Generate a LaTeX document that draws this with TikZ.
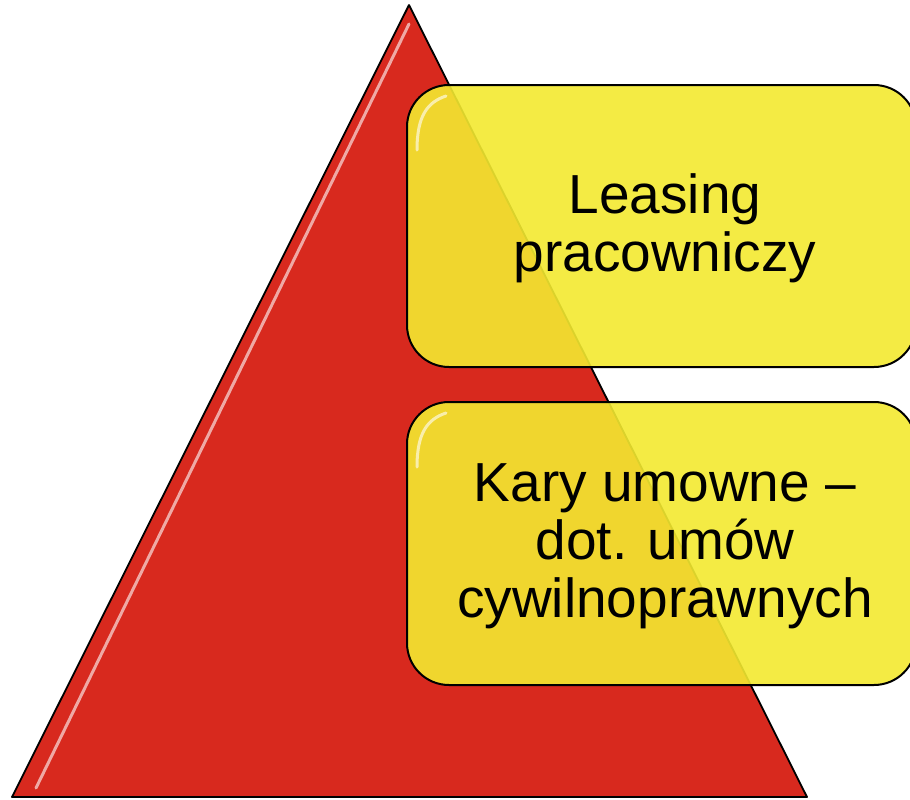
\documentclass[tikz,border=0pt]{standalone}
\usepackage{fontspec}
\setmainfont{Liberation Sans}
\definecolor{pyrred}{HTML}{D8291E}
\definecolor{boxyellow}{HTML}{F3E930}
\begin{document}
\begin{tikzpicture}[x=1pt,y=-1pt,
  tri/.style={fill=pyrred, draw=black, line width=1.8pt, line join=round},
  box/.style={fill=boxyellow, fill opacity=0.9, draw=black, draw opacity=1, line width=2pt, rounded corners=42pt},
  gloss/.style={white, opacity=0.6, line width=3pt, line cap=round},
  lbl/.style={font=\fontsize{55}{58}\selectfont, align=center, text=black, inner sep=0pt}
]
\useasboundingbox (0,0) rectangle (910,800);
\clip (0,0) rectangle (910,800);
% pyramid
\draw[tri] (409,5) -- (807,797) -- (12,797) -- cycle;
\draw[gloss] (409,24) -- (36,788);
% boxes
\draw[box] (407,85) rectangle (916,367);
\draw[box] (407,402) rectangle (916,685);
\draw[gloss] (417,150) .. controls (417,115) and (428,102) .. (446,96);
\draw[gloss] (417,467) .. controls (417,432) and (428,419) .. (446,413);
% labels
\node[lbl] (t1) at (665,228) {Leasing\\pracowniczy};
\node[lbl] (t2) at (665,546) {Kary umowne --\\dot. umów\\cywilnoprawnych};
\end{tikzpicture}
\end{document}
